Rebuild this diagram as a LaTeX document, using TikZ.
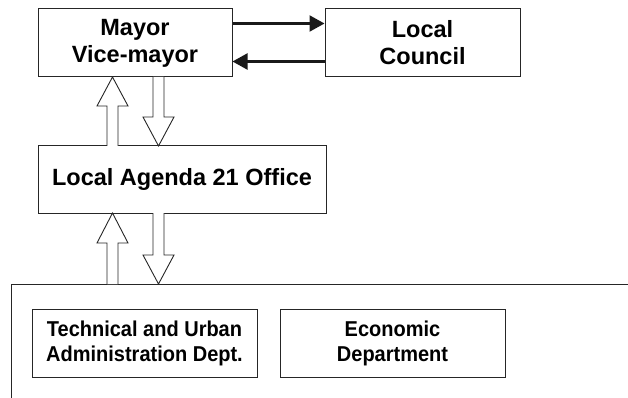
\documentclass[tikz,border=0pt]{standalone}
\usepackage{fontspec}
\setmainfont{Liberation Sans}
\newfontfamily\narrowsans[FakeStretch=0.93]{Liberation Sans}
\usetikzlibrary{calc,arrows.meta}
\begin{document}
\begin{tikzpicture}[x=1pt,y=-1pt,
  box/.style={draw=black!85,line width=1pt,fill=white,inner sep=0pt,align=center,font=\fontsize{23.5}{27}\selectfont\bfseries},
  lowbox/.style={box,font=\narrowsans\fontsize{21.5}{25}\selectfont\bfseries},
  harrow/.style={line width=2.2pt,black!90,-{Triangle[length=15pt,width=16pt]}},
  hollow/.style={draw=black!85,line width=0.9pt,fill=white,line join=miter}]
\useasboundingbox (0,0) rectangle (628,398);
\node[box,minimum width=194pt,minimum height=68pt] (mayor) at (135,43) {Mayor\\Vice-mayor};
\node[box,minimum width=195pt,minimum height=68pt] (council) at (422.5,43) {Local\\Council};
\node[box,minimum width=288pt,minimum height=67pt] (agenda) at (182,179.5) {Local Agenda 21 Office};
\draw[black!85,line width=1pt] (11,399) -- (11,284) -- (629,284);
\coordinate (depts) at (11,284);
\node[lowbox,minimum width=225pt,minimum height=68pt] (tech) at (144.5,343) {Technical and Urban\\Administration Dept.};
\node[lowbox,minimum width=225pt,minimum height=68pt] (econ) at (392.5,343) {Economic\\Department};
\draw[harrow] ($(mayor.north east)+(0,15)$) -- ($(council.north west)+(0,15)$);
\draw[harrow] ($(council.south west)+(0,-16)$) -- ($(mayor.south east)+(0,-16)$);
% hollow arrows mayor <-> agenda
\draw[hollow] (107,146) -- (107,106) -- (97,106) -- (112.5,77) -- (128,106) -- (118,106) -- (118,146);
\draw[hollow] (153,77) -- (153,117) -- (143,117) -- (158.5,146) -- (174,117) -- (164,117) -- (164,77);
% hollow arrows agenda <-> departments
\draw[hollow] (107,284) -- (107,243) -- (97,243) -- (112.5,213) -- (128,243) -- (118,243) -- (118,284);
\draw[hollow] (153,213) -- (153,255) -- (143,255) -- (158.5,284) -- (174,255) -- (164,255) -- (164,213);
\end{tikzpicture}
\end{document}
